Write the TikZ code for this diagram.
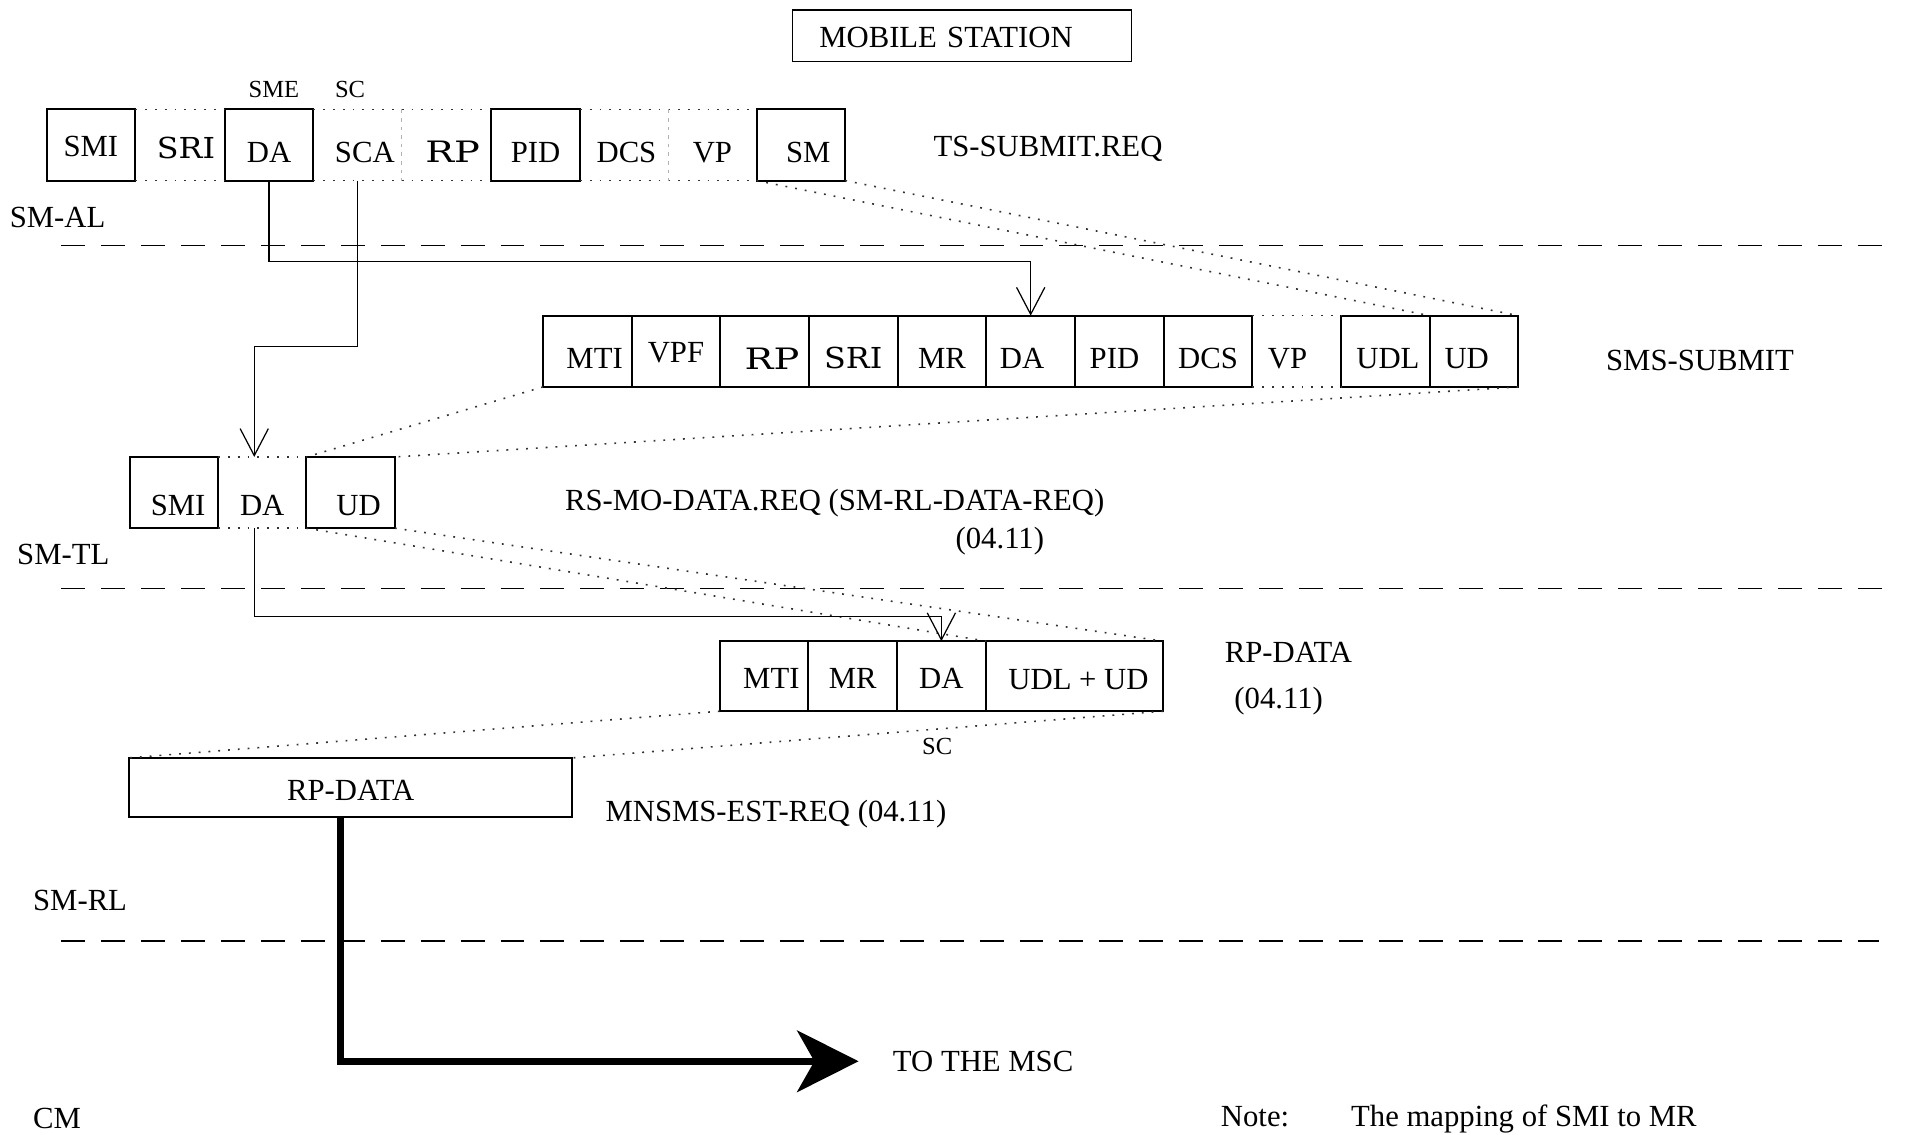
\documentclass[tikz,border=0pt]{standalone}
\usepackage{fontspec}
\setmainfont{Liberation Serif}
\newfontfamily\widefont{DejaVu Serif}
\usepackage{graphicx}
\usetikzlibrary{arrows.meta,calc}
\newcommand\wRP{{\widefont\fontsize{24}{28}\selectfont\scalebox{1.3}[1]{RP}}}
\newcommand\wSRI{{\widefont\fontsize{23.5}{28}\selectfont\scalebox{1.1}[1]{SRI}}}
\newcommand\rs[2]{\hspace*{#1pt}#2}
\newcommand\ls[2]{#2\hspace*{#1pt}}
\begin{document}
\begin{tikzpicture}[x=1pt,y=-1pt,
  every node/.style={font=\fontsize{25}{30}\selectfont, inner sep=0pt, outer sep=0pt},
  cell/.style={minimum width=72.2pt, minimum height=58pt, text height=28pt, text depth=0pt},
  box/.style={cell, draw, line width=1.6pt},
  lbl/.style={text height=17pt, text depth=0pt},
  small/.style={font=\fontsize{20}{24}\selectfont, text height=13pt, text depth=0pt},
  dots/.style={line width=1.3pt, black!80, dash pattern=on 1.5pt off 6.5pt},
  layer/.style={line width=1.2pt, dash pattern=on 19.5pt off 13pt},
  conn/.style={line width=1pt, -{Straight Barb[length=22pt,width=23pt,line width=1pt]}},
  sepline/.style={gray!60, line width=1pt, dash pattern=on 3pt off 4pt}
]
\useasboundingbox (0,0) rectangle (1568,924);

% MOBILE STATION
\node[draw, line width=1.2pt, text width=232pt, inner xsep=22pt, minimum height=42pt,
      align=left, text height=18.6pt, text depth=0pt] (ms) at (783,29) {MOBILE STATION};

% TS-SUBMIT.REQ row
\node[box, text height=18pt] (smi1) at (74,118) {SMI};
\node[cell, text height=22pt] (sri1) at (146.5,118) {\rs{10}{\wSRI}};
\node[box] (da1) at (219,118) {DA};
\node[cell] (sca1) at (291,118) {\rs{12}{SCA}};
\node[cell] (rp1) at (363.5,118) {\rs{10}{\wRP}};
\node[box] (pid1) at (436,118) {PID};
\node[cell] (dcs1) at (508,118) {\rs{4}{DCS}};
\node[cell] (vp1) at (580,118) {VP};
\node[box] (sm1) at (652,118) {\rs{12}{SM}};
\draw[dots] (smi1.north east) -- (da1.north west);
\draw[dots] (smi1.south east) -- (da1.south west);
\draw[dots] (da1.north east) -- (pid1.north west);
\draw[dots] (da1.south east) -- (pid1.south west);
\draw[dots] (pid1.north east) -- (sm1.north west);
\draw[dots] (pid1.south east) -- (sm1.south west);
\draw[sepline] (sca1.north east) -- (sca1.south east);
\draw[sepline] (dcs1.north east) -- (dcs1.south east);

\node[small] (sme) at (223,73) {SME};
\node[small] (sctop) at (285,73) {SC};
\node[lbl, anchor=west] (tsreq) at (760,119) {TS-SUBMIT.REQ};
\node[lbl, anchor=west] (smal) at (8,177) {SM-AL};

% layer lines
\draw[layer] (50,200) -- (1540,200);
\draw[layer] (50,479) -- (1540,479);
\draw[layer] (50,766) -- (1530,766);

% SMS-SUBMIT row
\node[box] (mti2) at (478.1,286) {\rs{12}{MTI}};
\node[box, text height=18pt] (vpf2) at (550.3,286) {VPF};
\node[box, text height=30pt] (rp2) at (622.5,286) {\rs{12}{\wRP}};
\node[box] (sri2) at (694.7,286) {\wSRI};
\node[box] (mr2) at (766.9,286) {MR};
\node[box] (da2) at (839.1,286) {\ls{14}{DA}};
\node[box] (pid2) at (911.3,286) {\ls{8}{PID}};
\node[box] (dcs2) at (983.5,286) {DCS};
\node[cell] (vp2) at (1055.7,286) {\ls{15}{VP}};
\node[box] (udl2) at (1127.9,286) {\rs{4}{UDL}};
\node[box] (ud2) at (1200.1,286) {\ls{12}{UD}};
\draw[dots] (dcs2.north east) -- (udl2.north west);
\draw[dots] (dcs2.south east) -- (udl2.south west);
\node[lbl] (smssub) at (1384,293) {SMS-SUBMIT};

% RS-MO-DATA row
\node[box, minimum width=72pt, text height=38pt] (smi3) at (141.5,401) {\rs{7}{SMI}};
\node[cell, minimum width=72pt, text height=38pt] (da3) at (213.5,401) {DA};
\node[box, minimum width=72pt, text height=38pt] (ud3) at (285.5,401) {\rs{13}{UD}};
\draw[dots] (smi3.north east) -- (ud3.north west);
\draw[dots] (smi3.south east) -- (ud3.south west);
\node[lbl, anchor=west] (rsmo) at (460,407) {RS-MO-DATA.REQ (SM-RL-DATA-REQ)};
\node[lbl] (rsmonum) at (814,438) {(04.11)};
\node[lbl, anchor=west] (smtl) at (14,451) {SM-TL};

% RP-DATA row
\node[box, minimum height=57pt, text height=19.6pt] (mti4) at (622,550.5) {\rs{12}{MTI}};
\node[box, minimum height=57pt, text height=19.6pt] (mr4) at (694.2,550.5) {MR};
\node[box, minimum height=57pt, text height=19.6pt] (da4) at (766.4,550.5) {DA};
\node[box, minimum height=57pt, minimum width=144pt, text height=22pt] (udlud) at (875,550.5) {\rs{6}{UDL + UD}};
\node[lbl] (rpdlbl) at (1049,531) {RP-DATA};
\node[lbl] (rpdnum) at (1041,568) {(04.11)};
\node[small] (scbot) at (763,608) {SC};

% RP-DATA box
\node[draw, line width=1.6pt, minimum width=361pt, minimum height=48pt, text height=20.6pt, text depth=0pt] (rpbox) at (285.5,641) {RP-DATA};
\node[lbl, anchor=west] (mnsms) at (493,660) {MNSMS-EST-REQ (04.11)};
\node[lbl, anchor=west] (smrl) at (27,733) {SM-RL};
\node[lbl, anchor=west] (msc) at (727,864) {TO THE MSC};
\node[lbl, anchor=west] (cm) at (27,910) {CM};
\node[lbl, anchor=west] (note) at (994,909) {Note:};
\node[lbl, anchor=west] (notetxt) at (1100,909) {The mapping of SMI to MR};

% mapping dotted lines
\draw[dots] (sm1.south west) -- (ud2.north west);
\draw[dots] (sm1.south east) -- (ud2.north east);
\draw[dots] (mti2.south west) -- (ud3.north west);
\draw[dots] (ud2.south east) -- (ud3.north east);
\draw[dots] (ud3.south west) -- (udlud.north west);
\draw[dots] (ud3.south east) -- (udlud.north east);
\draw[dots] (mti4.south west) -- (rpbox.north west);
\draw[dots] (udlud.south east) -- (rpbox.north east);

% connectors
\draw[conn] (da1.south) -- ++(0,66) -| (da2.north);
\draw[conn] (sca1.south) -- ++(0,135) -| ([xshift=-6.5pt]da3.north);
\draw[conn] ([xshift=-6.5pt]da3.south) -- ++(0,72) -| (da4.north);

% thick arrow
\draw[line width=6pt, line join=miter, -{Stealth[length=50pt,width=50pt,inset=14pt]}]
  ([xshift=-8.5pt]rpbox.south) |- ([xshift=-28pt]msc.west);
\end{tikzpicture}
\end{document}
